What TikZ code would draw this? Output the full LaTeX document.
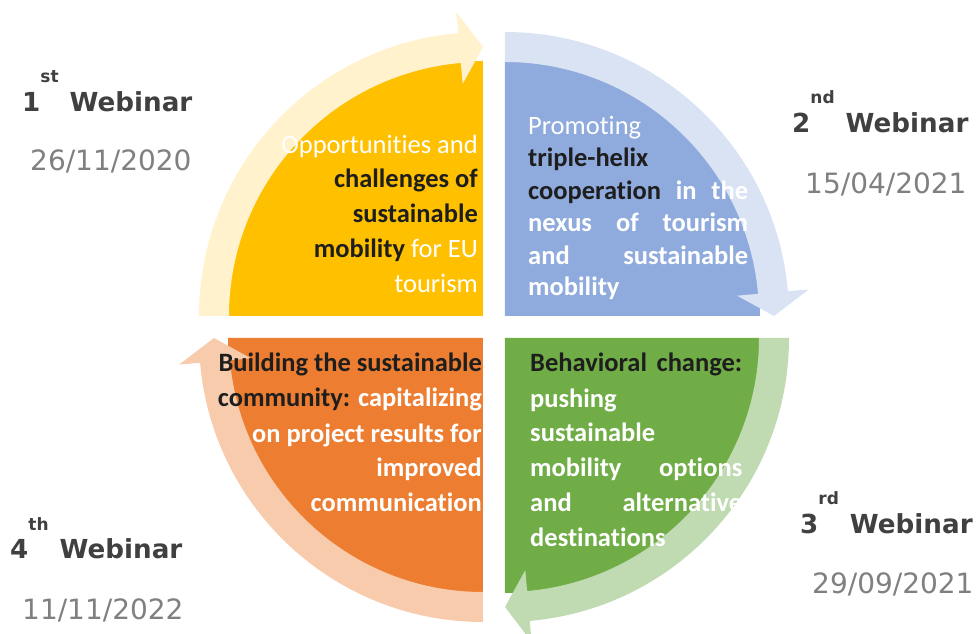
\documentclass[tikz,border=0pt]{standalone}
\usepackage{fontspec}
\setmainfont{Carlito}[Ligatures=NoCommon]
\newfontfamily\labelfont{DejaVu Sans}
\usepackage{xcolor}
\usepackage{tikz}
\definecolor{quadyellow}{HTML}{FFC000}
\definecolor{bandyellow}{HTML}{FFF2CC}
\definecolor{quadblue}{HTML}{8FAADC}
\definecolor{bandblue}{HTML}{DAE3F3}
\definecolor{quadgreen}{HTML}{70AD47}
\definecolor{bandgreen}{HTML}{C0DAB2}
\definecolor{quadorange}{HTML}{ED7D31}
\definecolor{bandorange}{HTML}{F8CBAD}
\definecolor{inkdark}{HTML}{1E1E1E}
\definecolor{labeldark}{HTML}{404040}
\definecolor{labelgrey}{HTML}{808080}
\newcommand{\dk}[1]{\textcolor{inkdark}{\bfseries #1}}
\newcommand{\ord}[1]{\raisebox{29pt}{\fontsize{17}{17}\selectfont #1}}

\begin{document}
\begin{tikzpicture}[x=1pt,y=1pt,
  qline/.style={font=\fontsize{26.5}{34.5}\selectfont,text=white,inner sep=0pt},
  webinar/.style={font=\labelfont\bfseries\fontsize{26.2}{30}\selectfont,text=labeldark,inner sep=0pt,anchor=base west},
  date/.style={font=\labelfont\fontsize{28}{32}\selectfont,text=labelgrey,inner sep=0pt,anchor=base west}]
\useasboundingbox (-494,-307) rectangle (484,327);
% quarters
\fill[quadyellow] (-11,11) -- ++(-255,0) arc[start angle=180,end angle=90,radius=255] -- cycle;
\fill[quadblue] (11,11) -- ++(0,255) arc[start angle=90,end angle=0,radius=255] -- cycle;
\fill[quadgreen] (11,-11) -- ++(255,0) arc[start angle=0,end angle=-90,radius=255] -- cycle;
\fill[quadorange] (-11,-11) -- ++(0,-255) arc[start angle=270,end angle=180,radius=255] -- cycle;
% arrows
\fill[bandyellow,shift={(-11,11)}] (180:254) -- (180:284) arc[start angle=180,end angle=95,radius=284] -- (95:305) -- (90:269) -- (95:233) -- (95:254) arc[start angle=95,end angle=180,radius=254] -- cycle;
\fill[bandblue,shift={(11,11)}] (90:254) -- (90:284) arc[start angle=90,end angle=5,radius=284] -- (5:305) -- (0:269) -- (5:233) -- (5:254) arc[start angle=5,end angle=90,radius=254] -- cycle;
\fill[bandgreen,shift={(11,-11)}] (0:254) -- (0:284) arc[start angle=0,end angle=-85,radius=284] -- (-85:305) -- (-90:269) -- (-85:233) -- (-85:254) arc[start angle=-85,end angle=0,radius=254] -- cycle;
\fill[bandorange,shift={(-11,-11)}] (270:254) -- (270:284) arc[start angle=270,end angle=185,radius=284] -- (185:305) -- (180:269) -- (185:233) -- (185:254) arc[start angle=185,end angle=270,radius=254] -- cycle;
% yellow text
\node[qline,anchor=base east] (y1) at (-16,173) {Opportunities and};
\node[qline,anchor=base east] (y2) at (-16,139) {\dk{challenges of}};
\node[qline,anchor=base east] (y3) at (-16,104) {\dk{sustainable}};
\node[qline,anchor=base east] (y4) at (-16,69) {\dk{mobility} for EU};
\node[qline,anchor=base east] (y5) at (-16,34) {tourism};
% blue text
\node[qline,anchor=base west] (b1) at (34,192) {Promoting};
\node[qline,anchor=base west] (b2) at (34,160) {\dk{triple-helix}};
\node[qline,anchor=base west,font=\fontsize{26.5}{34.5}\selectfont\bfseries] (b3) at (34,127) {\makebox[220pt][s]{\dk{cooperation} in the}};
\node[qline,anchor=base west,font=\fontsize{26.5}{34.5}\selectfont\bfseries] (b4) at (34,95) {\makebox[220pt][s]{nexus of tourism}};
\node[qline,anchor=base west,font=\fontsize{26.5}{34.5}\selectfont\bfseries] (b5) at (34,62) {\makebox[220pt][s]{and sustainable}};
\node[qline,anchor=base west,font=\fontsize{26.5}{34.5}\selectfont\bfseries] (b6) at (34,31) {mobility};
% green text
\node[qline,anchor=base west,font=\fontsize{26.5}{34.5}\selectfont\bfseries] (g1) at (36,-45) {\makebox[212pt][s]{\dk{Behavioral change:}}};
\node[qline,anchor=base west,font=\fontsize{26.5}{34.5}\selectfont\bfseries] (g2) at (36,-81) {pushing};
\node[qline,anchor=base west,font=\fontsize{26.5}{34.5}\selectfont\bfseries] (g3) at (36,-115) {sustainable};
\node[qline,anchor=base west,font=\fontsize{26.5}{34.5}\selectfont\bfseries] (g4) at (36,-150) {\makebox[212pt][s]{mobility options}};
\node[qline,anchor=base west,font=\fontsize{26.5}{34.5}\selectfont\bfseries] (g5) at (36,-185) {\makebox[212pt][s]{and alternative}};
\node[qline,anchor=base west,font=\fontsize{26.5}{34.5}\selectfont\bfseries] (g6) at (36,-220) {destinations};
% orange text
\node[qline,anchor=base east,font=\fontsize{26.5}{34.5}\selectfont\bfseries] (o1) at (-12,-45) {\dk{Building the sustainable}};
\node[qline,anchor=base east,font=\fontsize{26.5}{34.5}\selectfont\bfseries] (o2) at (-12,-80) {\dk{community:} capitalizing};
\node[qline,anchor=base east,font=\fontsize{26.5}{34.5}\selectfont\bfseries] (o3) at (-12,-116) {on project results for};
\node[qline,anchor=base east,font=\fontsize{26.5}{34.5}\selectfont\bfseries] (o4) at (-12,-150) {improved};
\node[qline,anchor=base east,font=\fontsize{26.5}{34.5}\selectfont\bfseries] (o5) at (-12,-185) {communication};
% webinars
\node[webinar] (w1) at (-472,215) {1\ord{st}\hspace{11pt}Webinar};
\node[date] (d1) at (-464,156) {26/11/2020};
\node[webinar] (w2) at (298,194) {2\ord{nd}\hspace{11pt}Webinar};
\node[date] (d2) at (311,133) {15/04/2021};
\node[webinar] (w3) at (306,-207) {3\ord{rd}\hspace{11pt}Webinar};
\node[date] (d3) at (318,-267) {29/09/2021};
\node[webinar] (w4) at (-484,-232) {4\ord{th}\hspace{11pt}Webinar};
\node[date] (d4) at (-472,-292) {11/11/2022};
\end{tikzpicture}
\end{document}
